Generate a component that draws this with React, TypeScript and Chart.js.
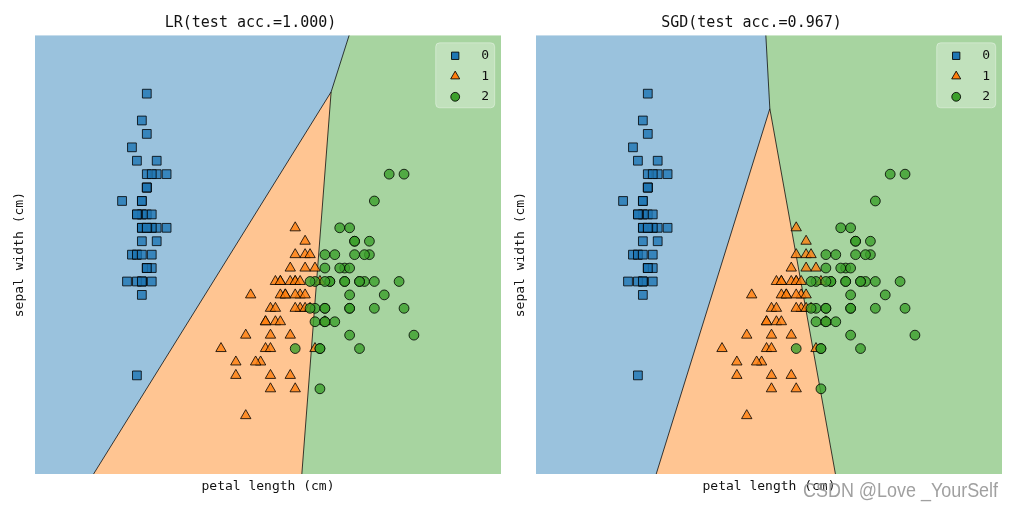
import React, { useEffect, useRef } from 'react';
import { Chart, registerables } from 'chart.js';
import { drawPoint } from 'chart.js/helpers';

Chart.register(...registerables);

const MONO = "'DejaVu Sans Mono', monospace";

// axis ranges (data units)
const X_MIN = -0.76;
const X_MAX = 8.66;
const Y_MIN = 1.565;
const Y_MAX = 4.835;

// class labels
const classLabels = ['0', '1', '2'];

// class 0 (setosa)
const class0PetalLength = [1.4, 1.4, 1.3, 1.5, 1.4, 1.7, 1.4, 1.5, 1.4, 1.5, 1.5, 1.6, 1.4, 1.1, 1.2, 1.5, 1.3, 1.4, 1.7, 1.5, 1.7, 1.5, 1.0, 1.7, 1.9, 1.6, 1.6, 1.5, 1.4, 1.6, 1.6, 1.5, 1.5, 1.4, 1.5, 1.2, 1.3, 1.4, 1.3, 1.5, 1.3, 1.3, 1.3, 1.6, 1.9, 1.4, 1.6, 1.4, 1.5, 1.4];
const class0SepalWidth = [3.5, 3.0, 3.2, 3.1, 3.6, 3.9, 3.4, 3.4, 2.9, 3.1, 3.7, 3.4, 3.0, 3.0, 4.0, 4.4, 3.9, 3.5, 3.8, 3.8, 3.4, 3.7, 3.6, 3.3, 3.4, 3.0, 3.4, 3.5, 3.4, 3.2, 3.1, 3.4, 4.1, 4.2, 3.1, 3.2, 3.5, 3.6, 3.0, 3.4, 3.5, 2.3, 3.2, 3.5, 3.8, 3.0, 3.8, 3.2, 3.7, 3.3];

// class 1 (versicolor)
const class1PetalLength = [4.7, 4.5, 4.9, 4.0, 4.6, 4.5, 4.7, 3.3, 4.6, 3.9, 3.5, 4.2, 4.0, 4.7, 3.6, 4.4, 4.5, 4.1, 4.5, 3.9, 4.8, 4.0, 4.9, 4.7, 4.3, 4.4, 4.8, 5.0, 4.5, 3.5, 3.8, 3.7, 3.9, 5.1, 4.5, 4.5, 4.7, 4.4, 4.1, 4.0, 4.4, 4.6, 4.0, 3.3, 4.2, 4.2, 4.2, 4.3, 3.0, 4.1];
const class1SepalWidth = [3.2, 3.2, 3.1, 2.3, 2.8, 2.8, 3.3, 2.4, 2.9, 2.7, 2.0, 3.0, 2.2, 2.9, 2.9, 3.1, 3.0, 2.7, 2.2, 2.5, 3.2, 2.8, 2.5, 2.8, 2.9, 3.0, 2.8, 3.0, 2.9, 2.6, 2.4, 2.4, 2.7, 2.7, 3.0, 3.4, 3.1, 2.3, 3.0, 2.5, 2.6, 3.0, 2.6, 2.3, 2.7, 3.0, 2.9, 2.9, 2.5, 2.8];

// class 2 (virginica)
const class2PetalLength = [6.0, 5.1, 5.9, 5.6, 5.8, 6.6, 4.5, 6.3, 5.8, 6.1, 5.1, 5.3, 5.5, 5.0, 5.1, 5.3, 5.5, 6.7, 6.9, 5.0, 5.7, 4.9, 6.7, 4.9, 5.7, 6.0, 4.8, 4.9, 5.6, 5.8, 6.1, 6.4, 5.6, 5.1, 5.6, 6.1, 5.6, 5.5, 4.8, 5.4, 5.6, 5.1, 5.1, 5.9, 5.7, 5.2, 5.0, 5.2, 5.4, 5.1];
const class2SepalWidth = [3.3, 2.7, 3.0, 2.9, 3.0, 3.0, 2.5, 2.9, 2.5, 3.6, 3.2, 2.7, 3.0, 2.5, 2.8, 3.2, 3.0, 3.8, 2.6, 2.2, 3.2, 2.8, 2.8, 2.7, 3.3, 3.2, 2.8, 3.0, 2.8, 3.0, 2.8, 3.8, 2.8, 2.8, 2.6, 3.0, 3.4, 3.1, 3.0, 3.1, 3.1, 3.1, 2.7, 3.2, 3.3, 3.0, 2.5, 3.0, 3.4, 3.0];

// decision boundary vertices (data units) - LR
const lrJunction = [5.226, 4.413];
const lrBlueGreenTop = [5.59, Y_MAX];
const lrBlueOrangeBottom = [0.424, Y_MIN];
const lrOrangeGreenBottom = [4.634, Y_MIN];

// decision boundary vertices (data units) - SGD
const sgdJunction = [3.967, 4.288];
const sgdBlueGreenTop = [3.886, Y_MAX];
const sgdBlueOrangeBottom = [1.67, Y_MIN];
const sgdOrangeGreenBottom = [5.293, Y_MIN];

const REGION_COLORS = ['rgba(31,119,180,0.45)', 'rgba(255,127,14,0.45)', 'rgba(60,160,44,0.45)'];
const MARKER_COLORS = ['rgba(31,119,180,0.8)', 'rgba(255,127,14,0.8)', 'rgba(60,160,44,0.8)'];
const LEGEND_COLORS = ['rgb(31,119,180)', 'rgb(255,127,14)', 'rgb(60,160,44)'];
const MARKER_STYLES = ['rect', 'triangle', 'circle'];
const MARKER_RADII = [6.2, 6, 4.9];
const LEGEND_RADII = [5.2, 5.2, 4.4];

type P = { x: number; y: number };
const pt = (a: number[]): P => ({ x: a[0], y: a[1] });
const zip = (xs: number[], ys: number[]): P[] => xs.map((x, i) => ({ x, y: ys[i] }));

function buildDatasets(j: number[], bgTop: number[], boBottom: number[], ogBottom: number[]) {
  const blue: P[] = [
    { x: X_MIN, y: Y_MIN }, pt(boBottom), pt(j), pt(bgTop), { x: X_MIN, y: Y_MAX }, { x: X_MIN, y: Y_MIN },
  ];
  const orange: P[] = [pt(boBottom), pt(ogBottom), pt(j), pt(boBottom)];
  const green: P[] = [
    pt(ogBottom), { x: X_MAX, y: Y_MIN }, { x: X_MAX, y: Y_MAX }, pt(bgTop), pt(j), pt(ogBottom),
  ];
  const regions = [blue, orange, green].map((poly, i) => ({
    data: poly,
    showLine: true,
    fill: 'shape',
    backgroundColor: REGION_COLORS[i],
    borderColor: 'transparent',
    borderWidth: 0,
    pointRadius: 0,
    tension: 0,
    order: 10,
  }));
  const lines = [
    [pt(bgTop), pt(j)],
    [pt(boBottom), pt(j)],
    [pt(ogBottom), pt(j)],
  ].map((seg) => ({
    data: seg,
    showLine: true,
    fill: false,
    borderColor: 'rgba(0,0,0,0.75)',
    borderWidth: 1,
    pointRadius: 0,
    order: 5,
  }));
  const series = [
    zip(class0PetalLength, class0SepalWidth),
    zip(class1PetalLength, class1SepalWidth),
    zip(class2PetalLength, class2SepalWidth),
  ].map((d, i) => ({
    label: classLabels[i],
    data: d,
    showLine: false,
    pointStyle: MARKER_STYLES[i],
    pointRadius: MARKER_RADII[i],
    pointBackgroundColor: MARKER_COLORS[i],
    pointBorderColor: 'rgba(0,0,0,0.8)',
    pointBorderWidth: 1,
    order: 3 - i,
  }));
  return [...regions, ...lines, ...series];
}

const insideLegend = {
  id: 'insideLegend',
  afterDatasetsDraw(chart: any) {
    const { ctx, chartArea } = chart;
    const x0 = chartArea.right - 65.3;
    const y0 = chartArea.top + 7.5;
    ctx.save();
    ctx.beginPath();
    if (ctx.roundRect) ctx.roundRect(x0, y0, 59, 65, 4);
    else ctx.rect(x0, y0, 59, 65);
    ctx.fillStyle = 'rgba(255,255,255,0.3)';
    ctx.fill();
    ctx.strokeStyle = 'rgba(255,255,255,0.35)';
    ctx.lineWidth = 1;
    ctx.stroke();
    classLabels.forEach((lab, i) => {
      const cy = y0 + 13 + i * 20.5;
      ctx.fillStyle = LEGEND_COLORS[i];
      ctx.strokeStyle = 'rgba(0,0,0,0.85)';
      ctx.lineWidth = 1;
      drawPoint(ctx, { pointStyle: MARKER_STYLES[i], radius: LEGEND_RADII[i], borderWidth: 1, rotation: 0 } as any, x0 + 19.5, cy);
      ctx.fillStyle = '#111';
      ctx.font = `13px ${MONO}`;
      ctx.textAlign = 'center';
      ctx.textBaseline = 'middle';
      ctx.fillText(lab, x0 + 49.5, cy);
    });
    ctx.restore();
  },
};

function makeConfig(title: string, datasets: any[]): any {
  return {
    type: 'scatter',
    data: { datasets },
    options: {
      responsive: false,
      animation: false,
      events: [],
      layout: { padding: { left: 0, right: 8, top: 0, bottom: 0 }, autoPadding: false },
      plugins: {
        legend: { display: false },
        tooltip: { enabled: false },
        title: {
          display: true,
          text: title,
          color: '#111',
          font: { family: MONO, size: 15, weight: 'normal' },
          padding: { top: 13.8, bottom: 3.5 },
        },
      },
      scales: {
        x: {
          type: 'linear',
          min: X_MIN,
          max: X_MAX,
          ticks: { display: false },
          grid: { display: false, drawTicks: false, tickLength: 0 },
          border: { display: false },
          title: {
            display: true,
            text: 'petal length (cm)',
            color: '#111',
            font: { family: MONO, size: 13 },
            padding: { top: 5.2, bottom: 14.2 },
          },
        },
        y: {
          type: 'linear',
          min: Y_MIN,
          max: Y_MAX,
          ticks: { display: false },
          grid: { display: false, drawTicks: false, tickLength: 0 },
          border: { display: false },
          title: {
            display: true,
            text: 'sepal width (cm)',
            color: '#111',
            font: { family: MONO, size: 13 },
            padding: { top: 12.2, bottom: 7.2 },
          },
        },
      },
    },
    plugins: [insideLegend],
  };
}

function Panel({ title, datasets, left }: { title: string; datasets: any[]; left: number }) {
  const ref = useRef<HTMLCanvasElement>(null);
  useEffect(() => {
    if (!ref.current) return;
    const chart = new Chart(ref.current, makeConfig(title, datasets));
    return () => chart.destroy();
  }, [title, datasets]);
  return (
    <div style={{ position: 'absolute', left, top: 0, width: 509, height: 509 }}>
      <canvas ref={ref} width={509} height={509} style={{ display: 'block' }} />
    </div>
  );
}

const lrDatasets = buildDatasets(lrJunction, lrBlueGreenTop, lrBlueOrangeBottom, lrOrangeGreenBottom);
const sgdDatasets = buildDatasets(sgdJunction, sgdBlueGreenTop, sgdBlueOrangeBottom, sgdOrangeGreenBottom);

export default function App() {
  return (
    <div style={{ position: 'absolute', left: 0, top: 0, width: 1018, height: 509, background: '#fff', overflow: 'hidden' }}>
      <Panel title="LR(test acc.=1.000)" datasets={lrDatasets} left={0} />
      <Panel title="SGD(test acc.=0.967)" datasets={sgdDatasets} left={501} />
      <div
        style={{
          position: 'absolute',
          left: 803,
          top: 478,
          fontFamily: "'Liberation Sans Narrow', 'Liberation Sans', sans-serif",
          fontSize: 19.5,
          color: 'rgba(150,150,150,0.9)',
          whiteSpace: 'nowrap',
          lineHeight: '24px',
          transform: 'scaleX(0.92)',
          transformOrigin: 'left center',
        }}
      >
        CSDN @Love _YourSelf
      </div>
    </div>
  );
}
